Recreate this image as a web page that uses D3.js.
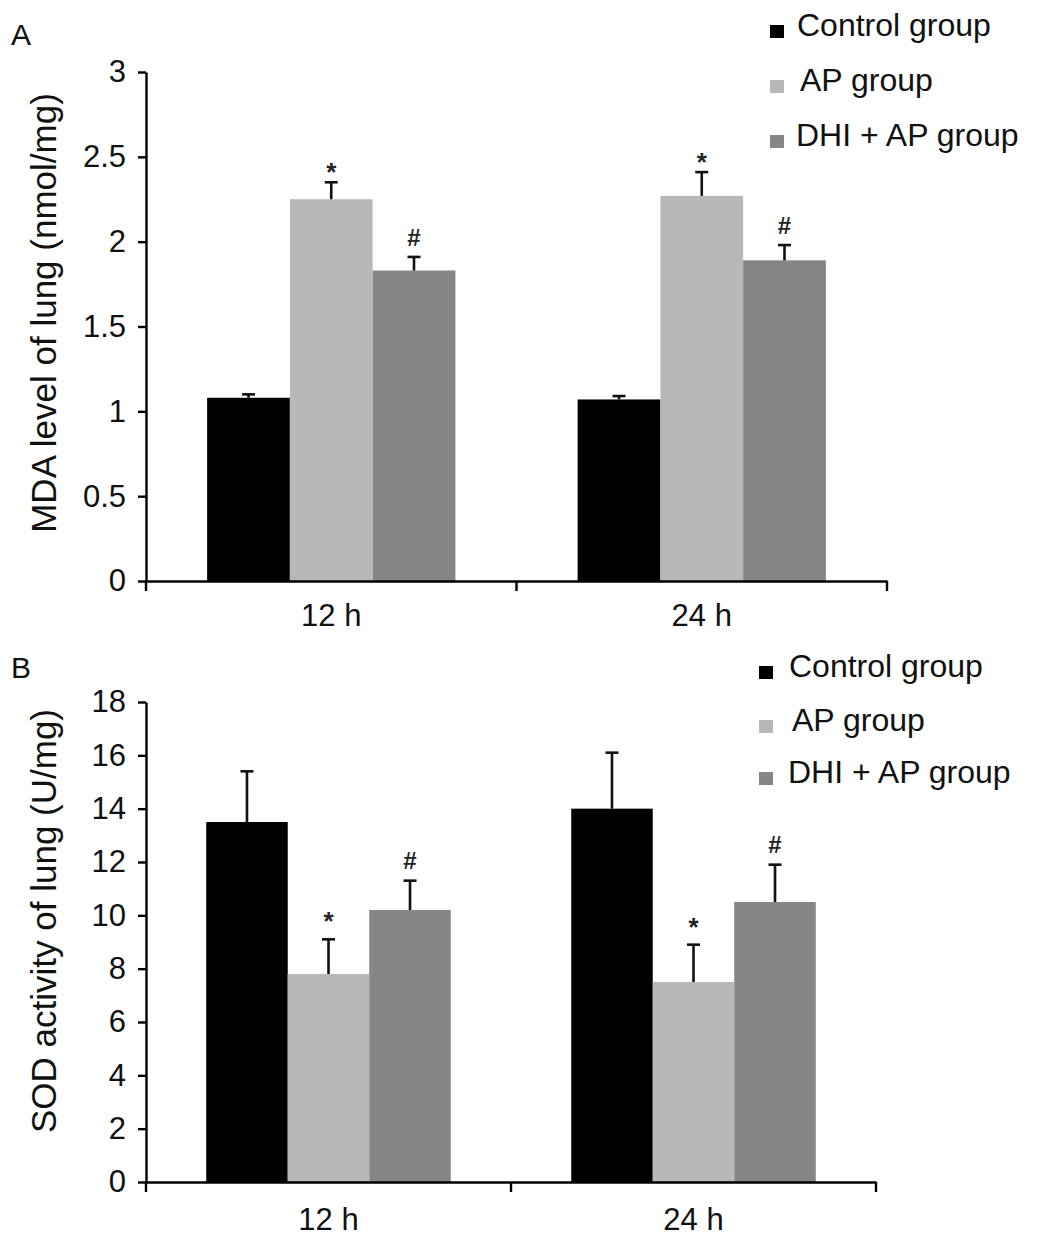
<!DOCTYPE html>
<html>
<head>
<meta charset="utf-8">
<script src="https://cdn.jsdelivr.net/npm/d3@7"></script>
<style>
  body { margin: 0; background: #fff; }
  svg { display: block; font-family: "Liberation Sans", Arial, sans-serif; }
</style>
</head>
<body>
<div id="chart"></div>
<script>
const groups = ['12 h', '24 h'];
const series = ['Control group', 'AP group', 'DHI + AP group'];
const colors = ['#000000', '#b8b8b8', '#868686'];
const marks = ['', '*', '#'];

// panel A: MDA level (nmol/mg), mean and error per group x series
const mdaMean = [[1.08, 2.25, 1.83], [1.07, 2.27, 1.89]];
const mdaErr = [[0.02, 0.10, 0.08], [0.02, 0.14, 0.09]];
const mdaTicks = [0, 0.5, 1, 1.5, 2, 2.5, 3];

// panel B: SOD activity (U/mg)
const sodMean = [[13.5, 7.8, 10.2], [14.0, 7.5, 10.5]];
const sodErr = [[1.9, 1.3, 1.1], [2.1, 1.4, 1.4]];
const sodTicks = [0, 2, 4, 6, 8, 10, 12, 14, 16, 18];

const svg = d3.select('#chart')
  .append('svg')
  .attr('width', 1040)
  .attr('height', 1244);

function drawPanel(opt) {
  const g = svg.append('g');

  const y = d3.scaleLinear()
    .domain([0, d3.max(opt.ticks)])
    .range([opt.bottom, opt.top]);

  const x = d3.scaleBand()
    .domain(groups)
    .range([opt.left, opt.right])
    .paddingInner(0.33)
    .paddingOuter(0.165);

  const x1 = d3.scaleBand()
    .domain(series)
    .range([0, x.bandwidth()]);

  // bars
  groups.forEach((grp, gi) => {
    const rows = series.map((s, si) => ({
      s, si, v: opt.mean[gi][si], e: opt.err[gi][si]
    }));
    const gg = g.append('g').attr('transform', `translate(${x(grp)},0)`);

    gg.selectAll('rect')
      .data(rows)
      .enter()
      .append('rect')
      .attr('x', d => x1(d.s))
      .attr('y', d => y(d.v))
      .attr('width', x1.bandwidth())
      .attr('height', d => y(0) - y(d.v))
      .attr('fill', d => colors[d.si]);

    // error bars (upper only)
    const eb = gg.selectAll('g.err')
      .data(rows)
      .enter()
      .append('g')
      .attr('class', 'err')
      .attr('stroke', '#111')
      .attr('stroke-width', 2.6);
    eb.append('line')
      .attr('x1', d => x1(d.s) + x1.bandwidth() / 2)
      .attr('x2', d => x1(d.s) + x1.bandwidth() / 2)
      .attr('y1', d => y(d.v))
      .attr('y2', d => y(d.v + d.e));
    eb.append('line')
      .attr('x1', d => x1(d.s) + x1.bandwidth() / 2 - 6.5)
      .attr('x2', d => x1(d.s) + x1.bandwidth() / 2 + 6.5)
      .attr('y1', d => y(d.v + d.e))
      .attr('y2', d => y(d.v + d.e));

    // significance marks
    gg.selectAll('text.mark')
      .data(rows.filter(d => marks[d.si]))
      .enter()
      .append('text')
      .attr('class', 'mark')
      .attr('x', d => x1(d.s) + x1.bandwidth() / 2)
      .attr('y', d => y(d.v + d.e) - (d.si === 1 ? opt.starGap : opt.hashGap))
      .attr('text-anchor', 'middle')
      .attr('font-size', d => d.si === 1 ? 26 : 24)
      .attr('font-weight', 'bold')
      .attr('fill', '#222')
      .text(d => marks[d.si]);
  });

  // y axis
  const yAxis = g.append('g')
    .attr('transform', `translate(${opt.left},0)`)
    .call(d3.axisLeft(y)
      .tickValues(opt.ticks)
      .tickFormat(d3.format('~g'))
      .tickSize(8)
      .tickSizeOuter(0)
      .tickPadding(12));
  yAxis.select('.domain').attr('stroke-width', 2.4);
  yAxis.selectAll('.tick line').attr('stroke-width', 2.4);
  yAxis.selectAll('.tick text')
    .attr('font-size', 31)
    .attr('fill', '#111')
    .attr('font-family', '"Liberation Sans", Arial, sans-serif');

  // x axis
  const xAxis = g.append('g')
    .attr('transform', `translate(0,${opt.bottom})`)
    .call(d3.axisBottom(x).tickSize(0).tickSizeOuter(0).tickPadding(opt.labelPad));
  xAxis.select('.domain').attr('stroke-width', 2.4);
  xAxis.selectAll('.tick text')
    .attr('font-size', 31)
    .attr('fill', '#111')
    .attr('font-family', '"Liberation Sans", Arial, sans-serif');

  const bounds = [
    x.range()[0],
    x(groups[1]) - x.step() * x.paddingInner() / 2,
    x.range()[1]
  ];
  xAxis.selectAll('line.bound')
    .data(bounds)
    .enter()
    .append('line')
    .attr('class', 'bound')
    .attr('x1', d => d).attr('x2', d => d)
    .attr('y1', 0).attr('y2', 10)
    .attr('stroke', '#000')
    .attr('stroke-width', 2.4);

  // y title
  g.append('text')
    .attr('transform', `translate(${opt.titleX},${opt.titleY}) rotate(-90)`)
    .attr('text-anchor', 'middle')
    .attr('font-size', 35)
    .attr('fill', '#111')
    .text(opt.title);

  // panel letter
  g.append('text')
    .attr('x', 11)
    .attr('y', opt.letterY)
    .attr('font-size', 30)
    .attr('fill', '#111')
    .text(opt.letter);

  // legend
  const lg = g.append('g');
  series.forEach((s, si) => {
    const ly = opt.legendY[si];
    lg.append('rect')
      .attr('x', opt.legendX)
      .attr('y', ly - 11)
      .attr('width', 14)
      .attr('height', 13)
      .attr('fill', colors[si]);
    lg.append('text')
      .attr('x', opt.legendX + opt.legendDx[si])
      .attr('y', ly)
      .attr('font-size', 32)
      .attr('fill', '#111')
      .text(s);
  });
}

drawPanel({
  mean: mdaMean, err: mdaErr, ticks: mdaTicks,
  top: 72, bottom: 581, left: 146, right: 887,
  title: 'MDA level of lung (nmol/mg)', titleX: 56, titleY: 313,
  letter: 'A', letterY: 45,
  legendX: 770, legendY: [36, 91, 146], legendDx: [27, 30, 26],
  starGap: 1, hashGap: 11, labelPad: 23
});

drawPanel({
  mean: sodMean, err: sodErr, ticks: sodTicks,
  top: 702, bottom: 1182, left: 146, right: 876,
  title: 'SOD activity of lung (U/mg)', titleX: 56, titleY: 921,
  letter: 'B', letterY: 678,
  legendX: 759, legendY: [677, 731, 783], legendDx: [30, 33, 29],
  starGap: 9, hashGap: 12, labelPad: 26
});
</script>
</body>
</html>
